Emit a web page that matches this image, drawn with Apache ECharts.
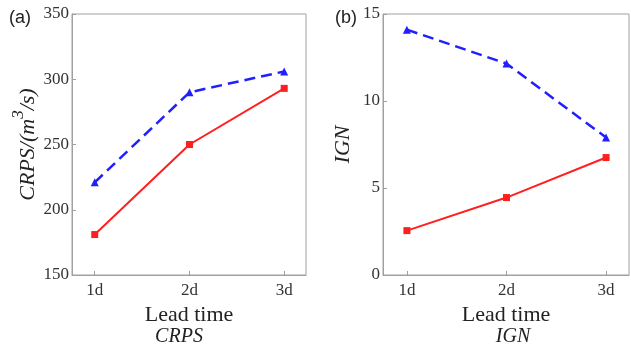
<!DOCTYPE html>
<html>
<head>
<meta charset="utf-8">
<script src="https://cdn.jsdelivr.net/npm/echarts@6/dist/echarts.min.js"></script>
<style>
  html, body { margin: 0; padding: 0; background: #fff; }
  #chart { width: 631px; height: 349px; }
</style>
</head>
<body>
<div id="chart"></div>
<script>
// lead times (x positions 1..3) and labels
const leadTimes = [1, 2, 3];
const leadLabels = ["1d", "2d", "3d"];

// panel (a) CRPS
const crpsBlue = [221, 290, 306];
const crpsRed = [181, 250, 293];
const crpsTicks = [150, 200, 250, 300, 350];

// panel (b) IGN
const ignBlue = [14.1, 12.15, 7.9];
const ignRed = [2.55, 4.45, 6.75];
const ignTicks = [0, 5, 10, 15];

const serif = "Liberation Serif";
const blue = "#1f1fff";
const red = "#ff1f1f";
const frame = "#a0a0a0";

function pairs(ys) {
  return leadTimes.map((x, i) => [x, ys[i]]);
}

function xAxis(idx) {
  return {
    type: "value",
    gridIndex: idx,
    min: 0.76,
    max: 3.23,
    name: "Lead time",
    nameLocation: "middle",
    nameGap: 22,
    nameTextStyle: { fontFamily: serif, fontSize: 22, color: "#222" },
    axisLine: { lineStyle: { color: frame } },
    axisTick: { inside: true, length: 4, customValues: leadTimes, lineStyle: { color: frame } },
    axisLabel: {
      customValues: leadTimes,
      formatter: v => leadLabels[leadTimes.indexOf(v)] || "",
      fontFamily: serif, fontSize: 17, color: "#333", margin: 7
    },
    splitLine: { show: false }
  };
}

function yAxis(idx, ticks, name, gap, rich) {
  return {
    type: "value",
    gridIndex: idx,
    min: ticks[0],
    max: ticks[ticks.length - 1],
    interval: ticks[1] - ticks[0],
    name: name,
    nameLocation: "middle",
    nameGap: gap,
    nameTextStyle: { fontFamily: serif, fontSize: 22, fontStyle: "italic", color: "#222", rich: rich },
    axisLine: { show: true, lineStyle: { color: frame } },
    axisTick: { inside: true, length: 4, lineStyle: { color: frame } },
    axisLabel: { fontFamily: serif, fontSize: 17, color: "#333", margin: 3 },
    splitLine: { show: false }
  };
}

function blueSeries(idx, ys) {
  return {
    type: "line", xAxisIndex: idx, yAxisIndex: idx,
    data: pairs(ys),
    symbol: "triangle", symbolSize: 8,
    itemStyle: { color: blue },
    lineStyle: { color: blue, width: 2.5, type: [11, 6] },
    animation: false
  };
}

function redSeries(idx, ys) {
  return {
    type: "line", xAxisIndex: idx, yAxisIndex: idx,
    data: pairs(ys),
    symbol: "rect", symbolSize: 7,
    itemStyle: { color: red },
    lineStyle: { color: red, width: 2 },
    animation: false
  };
}

const crpsRich = {
  i: { fontFamily: serif, fontSize: 22, fontStyle: "italic", color: "#222", lineHeight: 30, verticalAlign: "bottom" },
  sup: { fontFamily: serif, fontSize: 17, color: "#222", lineHeight: 30, verticalAlign: "top" }
};

const chart = echarts.init(document.getElementById("chart"), null, { renderer: "canvas" });
chart.setOption({
  backgroundColor: "#fff",
  title: [
    { text: "(a)", left: 4, top: 4, textStyle: { fontFamily: "Liberation Sans", fontSize: 18, fontWeight: "normal", color: "#222" } },
    { text: "(b)", left: 330, top: 4, textStyle: { fontFamily: "Liberation Sans", fontSize: 18, fontWeight: "normal", color: "#222" } },
    { text: "CRPS", left: 174, top: 322, textAlign: "center", textStyle: { fontFamily: serif, fontSize: 20, fontStyle: "italic", fontWeight: "normal", color: "#222" } },
    { text: "IGN", left: 508, top: 322, textAlign: "center", textStyle: { fontFamily: serif, fontSize: 20, fontStyle: "italic", fontWeight: "normal", color: "#222" } }
  ],
  grid: [
    { left: 72, top: 14, width: 234, height: 261, show: true, borderColor: frame, borderWidth: 1, backgroundColor: "transparent" },
    { left: 383, top: 14, width: 246, height: 261, show: true, borderColor: frame, borderWidth: 1, backgroundColor: "transparent" }
  ],
  xAxis: [xAxis(0), xAxis(1)],
  yAxis: [
    yAxis(0, crpsTicks, "{i|CRPS/(m}{sup|3}{i|/s)}", 30, crpsRich),
    yAxis(1, ignTicks, "IGN", 29)
  ],
  series: [
    blueSeries(0, crpsBlue),
    redSeries(0, crpsRed),
    blueSeries(1, ignBlue),
    redSeries(1, ignRed)
  ]
});
</script>
</body>
</html>
